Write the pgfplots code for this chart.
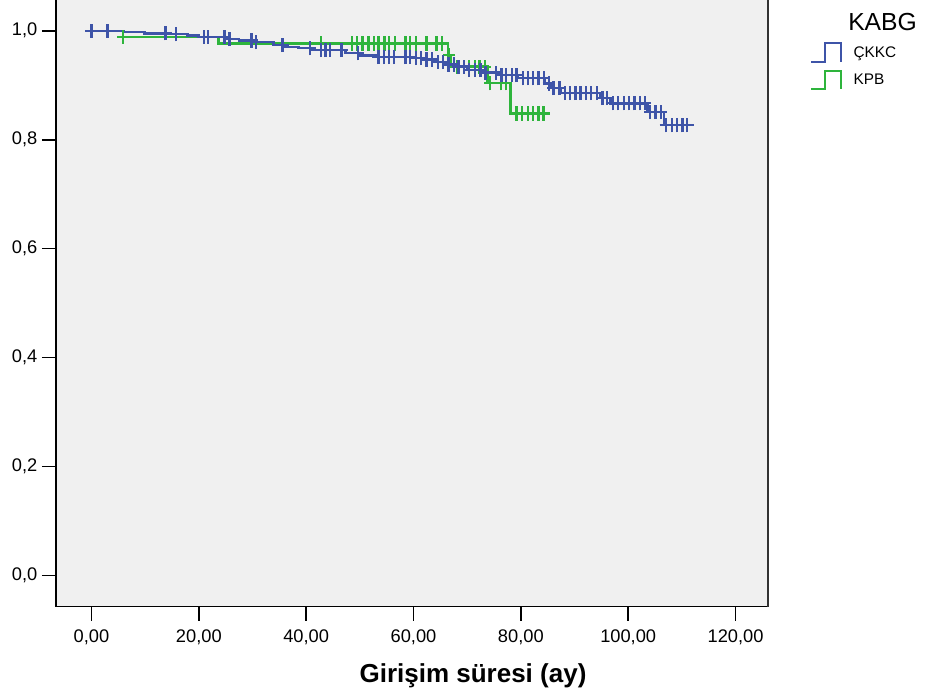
\documentclass[border=0pt]{standalone}
\usepackage{pgfplots}
\pgfplotsset{compat=1.18}
\usepackage{fontspec}
\setmainfont{Liberation Sans}
\definecolor{kmblue}{RGB}{62,84,168}
\definecolor{kmgreen}{RGB}{46,180,60}
\definecolor{bgc}{RGB}{240,240,240}
\pgfdeclareplotmark{kmc}{%
 \pgfpathmoveto{\pgfqpoint{0pt}{-\pgfplotmarksize}}%
 \pgfpathlineto{\pgfqpoint{0pt}{\pgfplotmarksize}}%
 \pgfpathmoveto{\pgfqpoint{-0.85\pgfplotmarksize}{0pt}}%
 \pgfpathlineto{\pgfqpoint{0.85\pgfplotmarksize}{0pt}}%
 \pgfusepathqstroke}
\begin{document}
\begin{tikzpicture}
\useasboundingbox (0,0) rectangle (699pt,522pt);
\begin{axis}[
 at={(42pt,67.1pt)}, anchor=south west,
 scale only axis, width=534pt, height=454.9pt,
 xmin=-6.61, xmax=126.05, ymin=-0.0565, ymax=1.0565,
 axis x line=bottom, axis y line=left,
 axis line style={-, line width=1.1pt, black},
 axis background/.style={fill=bgc},
 xtick={0,20,40,60,80,100,120}, ytick={0,0.2,0.4,0.6,0.8,1.0},
 minor tick num=0,
 tick align=outside, major tick length=10.5pt,
 tick style={black, line width=1.1pt},
 tick label style={font=\fontsize{13.7pt}{15pt}\selectfont},
 x tick label style={yshift=-3.5pt, /pgf/number format/.cd, fixed, fixed zerofill, precision=2, use comma, assume math mode=true},
 y tick label style={/pgf/number format/.cd, fixed, fixed zerofill, precision=1, use comma, assume math mode=true},
 legend cell align=left,
 legend image code/.code={\draw[#1, line width=1.5pt] (0pt,-7pt) -- (10pt,-7pt) -- (10pt,7pt) -- (22pt,7pt) -- (22pt,-7pt);},
 legend style={at={(rel axis cs:1.059,0.9306)}, anchor=north west, draw=none, fill=none,
   inner sep=0pt, row sep=5pt, font=\fontsize{11.5pt}{13pt}\selectfont,
   nodes={inner sep=0pt}, /tikz/every odd column/.append style={column sep=9pt}},
 clip=false,
]
% KPB (green) step line
\addplot[kmgreen, line width=1.9pt, const plot, forget plot] coordinates {
(0,1.000)(5.9,0.989)(23.7,0.977)(66.4,0.955)(67.0,0.934)(73.8,0.904)(78.1,0.848)(85.4,0.848)};
\addplot[kmgreen, line width=1.7pt, only marks, mark=kmc, mark size=5.4pt, forget plot] coordinates {
(5.9,0.989)(42.7,0.977)(48.6,0.977)(49.5,0.977)(50.5,0.977)(51.6,0.977)(52.6,0.977)(53.5,0.977)
(54.6,0.977)(55.5,0.977)(56.5,0.977)(58.5,0.977)(59.4,0.977)(60.4,0.977)(62.4,0.977)(64.3,0.977)
(65.3,0.977)(66.6,0.955)(68.2,0.934)(69.4,0.934)(70.3,0.934)(71.4,0.934)(72.3,0.934)(73.3,0.934)
(74.3,0.904)(76.3,0.904)(77.3,0.904)(79.2,0.848)(80.2,0.848)(81.3,0.848)(82.3,0.848)(83.3,0.848)(84.2,0.848)};
% CKKC (blue) step line
\addplot[kmblue, line width=1.9pt, const plot, forget plot] coordinates {
(0,1.000)(6.1,0.998)(9.9,0.9955)(14.0,0.994)(17.9,0.991)(19.9,0.989)(25.5,0.985)(27.5,0.982)
(30.5,0.979)(33.9,0.974)(35.8,0.970)(38.6,0.968)(40.8,0.965)(47.3,0.959)(50.1,0.955)(53.3,0.952)
(60.0,0.950)(62.2,0.947)(64.4,0.943)(66.3,0.938)(68.2,0.934)(70.0,0.928)(73.0,0.923)(76.0,0.919)
(79.4,0.913)(84.5,0.9035)(85.5,0.895)(87.4,0.886)(94.8,0.877)(96.7,0.867)(103.6,0.851)(106.7,0.827)(112.2,0.827)};
\addplot[kmblue, line width=1.7pt, only marks, mark=kmc, mark size=5.4pt, forget plot] coordinates {
(0,1)(3.0,1)(13.8,0.9955)(15.8,0.994)(20.9,0.989)(21.7,0.989)(24.8,0.989)(25.7,0.985)(29.8,0.982)
(30.7,0.979)(35.6,0.974)(40.7,0.968)(42.7,0.965)(43.6,0.965)(44.5,0.965)(46.6,0.965)(49.6,0.959)
(53.5,0.952)(54.5,0.952)(55.4,0.952)(56.3,0.952)(58.5,0.952)(59.4,0.952)(60.4,0.950)(61.4,0.950)
(62.4,0.947)(63.5,0.947)(64.5,0.943)(65.5,0.943)(66.5,0.938)(67.5,0.938)(68.4,0.934)(69.4,0.934)
(70.4,0.928)(71.4,0.928)(72.5,0.928)(73.4,0.923)(75.4,0.923)(76.4,0.919)(77.3,0.919)(78.4,0.919)
(79.2,0.919)(80.4,0.913)(81.4,0.913)(82.3,0.913)(83.3,0.913)(84.3,0.913)(85.2,0.9035)(86.1,0.895)
(87.2,0.895)(88.2,0.886)(89.1,0.886)(90.2,0.886)(91.1,0.886)(92.2,0.886)(93.1,0.886)(94.2,0.886)
(95.2,0.877)(96.1,0.877)(97.2,0.867)(98.1,0.867)(99.2,0.867)(100.1,0.867)(101.2,0.867)(102.2,0.867)
(103.2,0.867)(104.1,0.851)(105.1,0.851)(106.1,0.851)(107.0,0.827)(108.1,0.827)(109.1,0.827)
(110.1,0.827)(111.0,0.827)};
\addlegendimage{kmblue}
\addlegendentry{ÇKKC}
\addlegendimage{kmgreen}
\addlegendentry{KPB}
\draw[line width=1.1pt, black!80] (rel axis cs:1,0) -- (rel axis cs:1,1);
\end{axis}
\node[anchor=base west, font=\fontsize{18.5pt}{21pt}\selectfont, inner sep=0pt] at (636pt,498.75pt) {KABG};
\node[anchor=base, font=\fontsize{19.5pt}{22pt}\selectfont\bfseries, inner sep=0pt] at (354.75pt,9.75pt) {Girişim süresi (ay)};
\end{tikzpicture}
\end{document}
